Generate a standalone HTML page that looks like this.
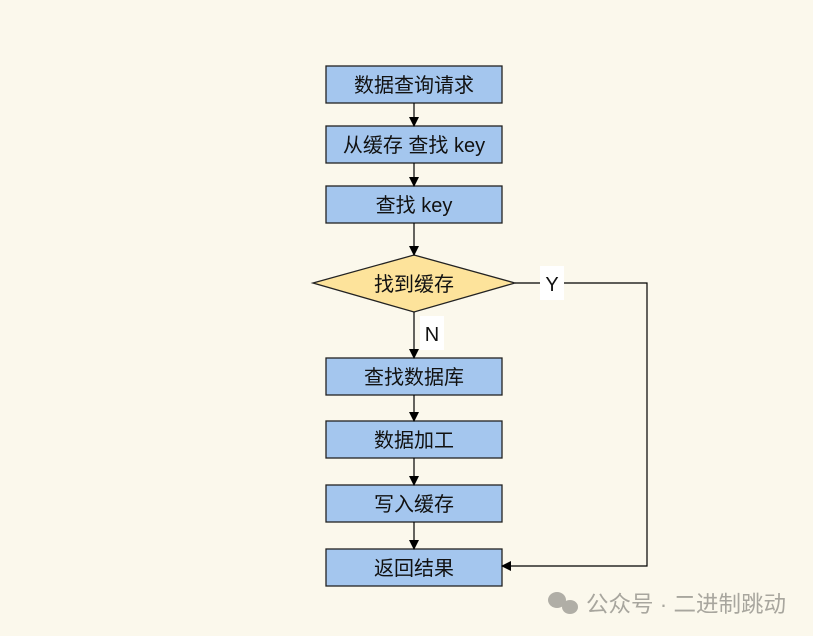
<!DOCTYPE html>
<html><head><meta charset="utf-8"><style>
html,body{margin:0;padding:0;background:#fbf8ec;}
svg{display:block}
text{font-family:"Liberation Sans","Noto Sans CJK SC",sans-serif;}
</style></head><body>
<svg width="817" height="636" viewBox="0 0 817 636" xmlns="http://www.w3.org/2000/svg">
<rect width="817" height="636" fill="#fbf8ec"/>
<rect x="813" y="0" width="4" height="636" fill="#ffffff"/>
<defs><marker id="a" markerWidth="10" markerHeight="10" refX="9" refY="5" orient="auto" markerUnits="userSpaceOnUse"><path d="M0,0 L10,5 L0,10 z" fill="#000"/></marker></defs>
<g fill="#a4c6ee" stroke="#222" stroke-width="1.3">
<rect x="326" y="66" width="176" height="37"/>
<rect x="326" y="126" width="176" height="37"/>
<rect x="326" y="186" width="176" height="37"/>
<polygon points="414,255 515,283 414,312 313,283" fill="#fde39b"/>
<rect x="326" y="358" width="176" height="37"/>
<rect x="326" y="421" width="176" height="37"/>
<rect x="326" y="485" width="176" height="37"/>
<rect x="326" y="549" width="176" height="37"/>
</g>
<g stroke="#000" stroke-width="1.2" fill="none" marker-end="url(#a)">
<line x1="414" y1="103" x2="414" y2="126"/>
<line x1="414" y1="163" x2="414" y2="186"/>
<line x1="414" y1="223" x2="414" y2="255"/>
<line x1="414" y1="312" x2="414" y2="358"/>
<line x1="414" y1="395" x2="414" y2="421"/>
<line x1="414" y1="458" x2="414" y2="485"/>
<line x1="414" y1="522" x2="414" y2="549"/>
<polyline points="515,283 647,283 647,566 502,566"/>
</g>
<rect x="540" y="266" width="24" height="34" fill="#fff"/>
<rect x="420" y="316" width="24" height="34" fill="#fff"/>
<g font-size="20" text-anchor="middle" fill="#111">
<text x="414" y="92">数据查询请求</text>
<text x="414" y="152">从缓存 查找 key</text>
<text x="414" y="212">查找 key</text>
<text x="414" y="291">找到缓存</text>
<text x="414" y="384">查找数据库</text>
<text x="414" y="447">数据加工</text>
<text x="414" y="511">写入缓存</text>
<text x="414" y="575">返回结果</text>
<text x="552" y="291">Y</text>
<text x="432" y="341">N</text>
</g>
<g fill="#b0aea6">
<ellipse cx="557" cy="600" rx="9" ry="8"/>
<ellipse cx="570" cy="607" rx="8" ry="7"/>
</g>
<text x="586" y="612" font-size="22.5" fill="#a8a69e">公众号 · 二进制跳动</text>
</svg>
</body></html>
